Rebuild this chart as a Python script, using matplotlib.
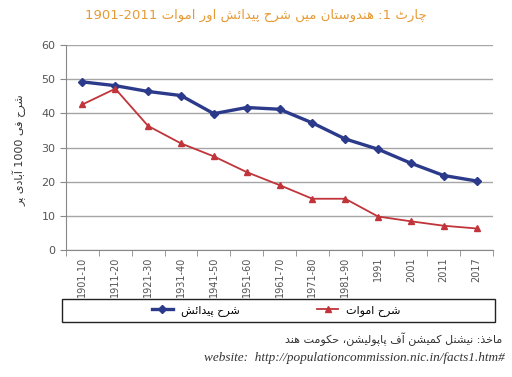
import re
import matplotlib
matplotlib.use("Agg")
import matplotlib.pyplot as plt
from matplotlib.patches import Rectangle

# Data (per 1000 population)
periods = ["1901-10", "1911-20", "1921-30", "1931-40", "1941-50", "1951-60", "1961-70",
           "1971-80", "1981-90", "1991", "2001", "2011", "2017"]
birth_rate = [49.2, 48.1, 46.4, 45.2, 39.9, 41.7, 41.2, 37.2, 32.5, 29.5, 25.4, 21.8, 20.2]
death_rate = [42.6, 47.2, 36.3, 31.2, 27.4, 22.8, 19.0, 15.0, 15.0, 9.8, 8.4, 7.1, 6.3]

title_txt = "چارٹ 1: ہندوستان میں شرح پیدائش اور اموات 1901-2011"
birth_lbl = "شرح پیدائش"
death_lbl = "شرح اموات"
ylabel_txt = "شرح فی 1000 آبادی پر"
source_txt = "ماخذ: نیشنل کمیشن آف پاپولیشن، حکومت ہند"
website_txt = "website:  http://populationcommission.nic.in/facts1.htm#"

# Minimal Arabic-script shaping (matplotlib has no complex text layout)
FORMS = {
    'ا': (0xFE8D, 0xFE8E), 'آ': (0xFE81, 0xFE82), 'د': (0xFEA9, 0xFEAA),
    'ذ': (0xFEAB, 0xFEAC), 'ر': (0xFEAD, 0xFEAE), 'و': (0xFEED, 0xFEEE),
    'ں': (0xFB9E, 0xFB9F),
    'ب': (0xFE8F, 0xFE90, 0xFE91, 0xFE92), 'ت': (0xFE95, 0xFE96, 0xFE97, 0xFE98),
    'ح': (0xFEA1, 0xFEA2, 0xFEA3, 0xFEA4), 'خ': (0xFEA5, 0xFEA6, 0xFEA7, 0xFEA8),
    'س': (0xFEB1, 0xFEB2, 0xFEB3, 0xFEB4), 'ش': (0xFEB5, 0xFEB6, 0xFEB7, 0xFEB8),
    'ف': (0xFED1, 0xFED2, 0xFED3, 0xFED4), 'ل': (0xFEDD, 0xFEDE, 0xFEDF, 0xFEE0),
    'م': (0xFEE1, 0xFEE2, 0xFEE3, 0xFEE4), 'ن': (0xFEE5, 0xFEE6, 0xFEE7, 0xFEE8),
    'ئ': (0xFE89, 0xFE8A, 0xFE8B, 0xFE8C), 'پ': (0xFB56, 0xFB57, 0xFB58, 0xFB59),
    'چ': (0xFB7A, 0xFB7B, 0xFB7C, 0xFB7D), 'ٹ': (0xFB66, 0xFB67, 0xFB68, 0xFB69),
    'ک': (0xFB8E, 0xFB8F, 0xFB90, 0xFB91), 'ہ': (0xFEE9, 0xFEEA, 0xFEEB, 0xFEEC),
    'ی': (0xFBFC, 0xFBFD, 0xFBFE, 0xFBFF),
}


def urdu(s):
    out = []
    for i, c in enumerate(s):
        f = FORMS.get(c)
        if f is None:
            out.append(c)
            continue
        prev = s[i - 1] if i > 0 else ''
        nxt = s[i + 1] if i + 1 < len(s) else ''
        jp = prev in FORMS and len(FORMS[prev]) == 4
        jn = len(f) == 4 and nxt in FORMS
        k = 3 if (jp and jn) else 2 if jn else 1 if jp else 0
        out.append(chr(f[k]))
    vis = ''.join(out)[::-1]
    return re.sub(r'[0-9][0-9\-]*[0-9]|[0-9]', lambda m: m.group(0)[::-1], vis)


plt.rcParams['font.family'] = ['DejaVu Sans']

fig = plt.figure(figsize=(5.12, 3.77), dpi=100)
ax = fig.add_axes([66 / 512, 1 - 250 / 377, (493 - 66) / 512, (250 - 45) / 377])

x = list(range(len(periods)))
ax.plot(x, birth_rate, color='#2B3A8A', lw=2.4, marker='D', ms=4.5, label=urdu(birth_lbl))
ax.plot(x, death_rate, color='#C0343A', lw=1.3, marker='^', ms=4.5, label=urdu(death_lbl))

ax.set_xlim(-0.5, len(periods) - 0.5)
ax.set_ylim(0, 60)
ax.set_yticks(range(0, 61, 10))
ax.yaxis.grid(True, color='#A6A6A6', lw=1)
ax.set_axisbelow(True)
ax.set_xticks(x)
ax.set_xticklabels(periods, rotation=90, fontsize=7, color='#555555')
ax.set_xticks([i - 0.5 for i in range(len(periods) + 1)], minor=True)
ax.tick_params(axis='x', which='major', length=0, pad=5)
ax.tick_params(axis='x', which='minor', length=4, color='#888888')
ax.tick_params(axis='y', labelsize=8, labelcolor='#555555', length=4, color='#888888')
for side in ['top', 'right']:
    ax.spines[side].set_visible(False)
for side in ['left', 'bottom']:
    ax.spines[side].set_color('#888888')

fig.text(20 / 512, 1 - 150 / 377, urdu(ylabel_txt), rotation=90, ha='center', va='center',
         fontsize=8, color='#333333')
fig.text(256 / 512, 1 - 15 / 377, urdu(title_txt), ha='center', va='center',
         fontsize=9.5, color='#E69A35')

# legend in a framed box below the chart
fig.patches.append(Rectangle((62 / 512, 1 - 322 / 377), (495 - 62) / 512, 23 / 377,
                             transform=fig.transFigure, fill=False, lw=1, edgecolor='#222222'))
fig.legend(loc='center', bbox_to_anchor=(276 / 512, 1 - 310.5 / 377), ncol=2, frameon=False,
           fontsize=8, handlelength=1.9, handletextpad=0.7, columnspacing=7)

fig.text(502 / 512, 1 - 339 / 377, urdu(source_txt), ha='right', va='center',
         fontsize=8, color='#333333')
fig.text(505 / 512, 1 - 358 / 377, website_txt, ha='right', va='center',
         fontsize=9.5, style='italic', family='Liberation Serif', color='#333333')

fig.savefig('out.png', dpi=100)
